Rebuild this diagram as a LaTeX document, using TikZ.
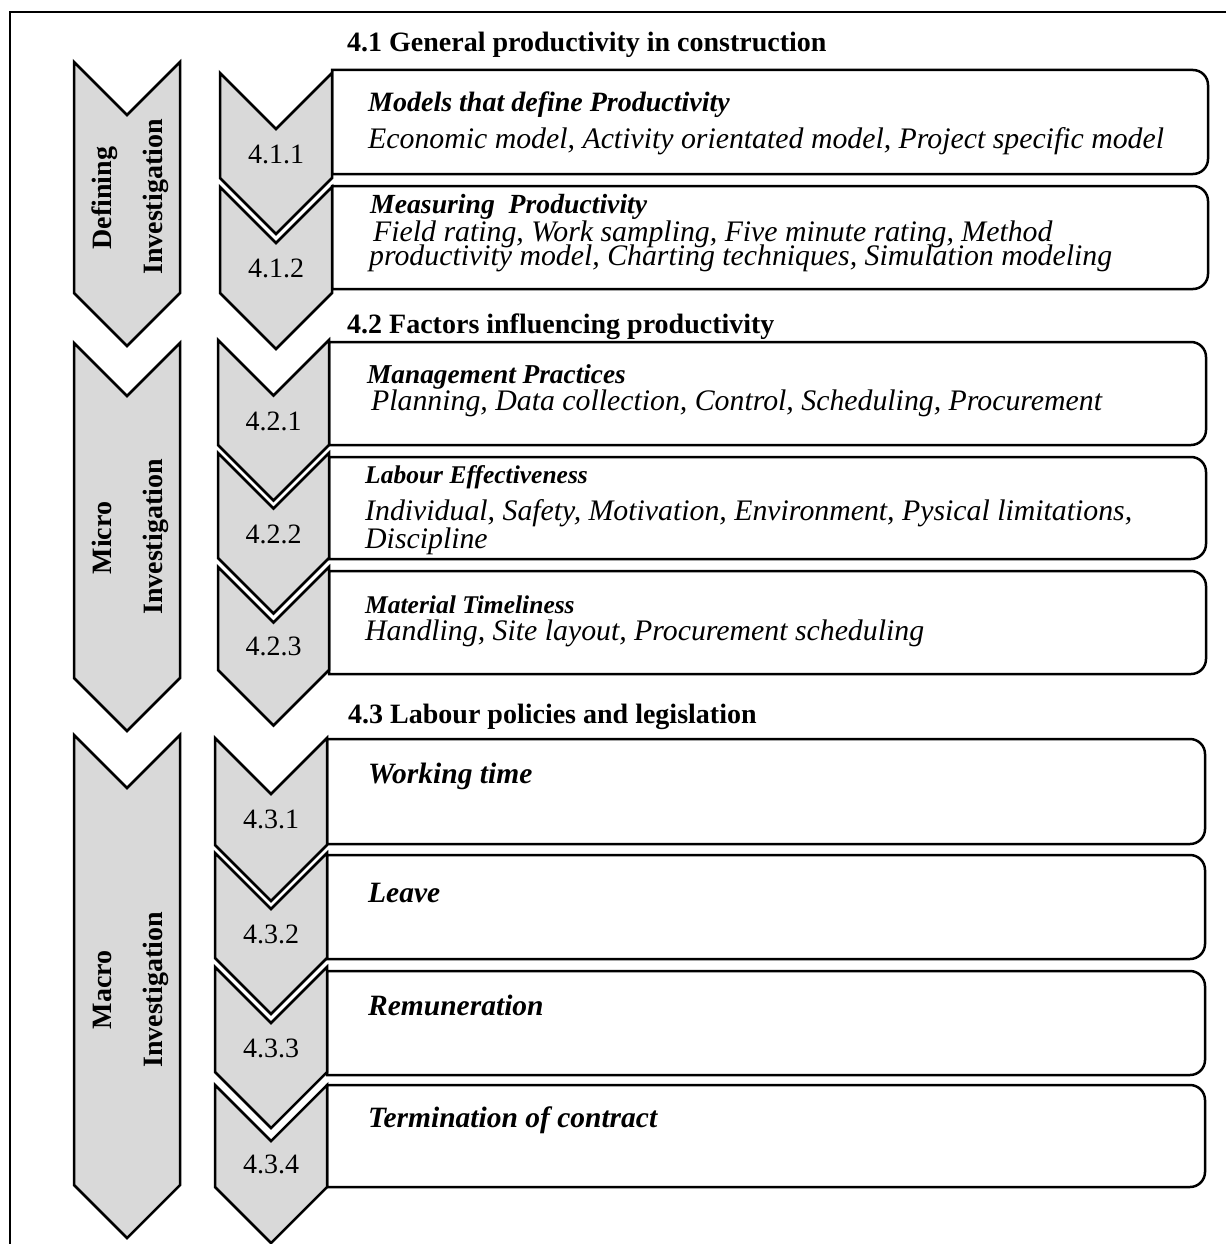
\documentclass[tikz,border=0pt]{standalone}
\usepackage{fontspec}
\setmainfont{Liberation Serif}
\definecolor{chevgray}{HTML}{D9D9D9}

% chevron: left x, right x, top y, shoulder y (notch and tip at 45 degrees)
\newcommand\chevronshape[4]{%
  \draw[chev] (#1,#3) -- ({(#1+#2)/2},{#3+(#2-#1)/2}) -- (#2,#3)
    -- (#2,#4) -- ({(#1+#2)/2},{#4+(#2-#1)/2}) -- (#1,#4) -- cycle;}

% content box, square on the left, rounded on the right: left, right, top, bottom
\newcommand\contentbox[4]{%
  \draw[itembox] (#1,#3) -- ({#2-15},#3) arc[start angle=-90,end angle=0,radius=15]
    -- (#2,{#4-15}) arc[start angle=0,end angle=90,radius=15] -- (#1,#4) -- cycle;}

\begin{document}
\begin{tikzpicture}[x=1pt,y=-1pt,
  frameline/.style={line width=2.3pt},
  chev/.style={draw=black,fill=chevgray,line width=2.5pt,line join=miter},
  itembox/.style={draw=black,fill=white,line width=2.5pt},
  numtxt/.style={anchor=base,inner sep=0pt,font=\fontsize{28}{30}\selectfont},
  headtxt/.style={anchor=base west,inner sep=0pt,font=\fontsize{28}{30}\selectfont\bfseries},
  titletxt/.style={anchor=base west,inner sep=0pt,font=\fontsize{#1}{30}\selectfont\bfseries\itshape},
  titletxt/.default=28,
  bodytxt/.style={anchor=base west,inner sep=0pt,font=\fontsize{29.8}{30}\selectfont\itshape},
  sidetxt/.style={anchor=base,inner sep=0pt,rotate=90,font=\fontsize{28}{30}\selectfont\bfseries}]

\useasboundingbox (0,0) rectangle (1226,1244);
\fill[white] (0,0) rectangle (1226,1244);

% outer frame
\draw[frameline] (1226,12) -- (10,12) -- (10,1244);

% large section chevrons
\chevronshape{74}{180}{62}{293}
\chevronshape{74}{180}{343}{678}
\chevronshape{74}{180}{735}{1185}

\node[sidetxt] (defA) at (111,198) {Defining};
\node[sidetxt] (defB) at (162,197) {Investigation};
\node[sidetxt] (micA) at (111,538) {Micro};
\node[sidetxt] (micB) at (162,537) {Investigation};
\node[sidetxt] (macA) at (111,990) {Macro};
\node[sidetxt] (macB) at (162,990) {Investigation};

% section headings
\node[headtxt] (h41) at (347,52) {4.1 General productivity in construction};
\node[headtxt] (h42) at (347,333) {4.2 Factors influencing productivity};
\node[headtxt] (h43) at (348,723) {4.3 Labour policies and legislation};

% 4.1 rows
\contentbox{332}{1208}{70}{174}
\chevronshape{220}{332}{73}{178}
\contentbox{332}{1208}{186}{289}
\chevronshape{220}{332}{187}{293}

\node[numtxt] (n411) at (276,163) {4.1.1};
\node[numtxt] (n412) at (276,277) {4.1.2};

\node[titletxt] (t411) at (368,112) {Models that define Productivity};
\node[bodytxt]  (b411) at (368,148) {Economic model, Activity orientated model, Project specific model};
\node[titletxt=27.7] (t412) at (370,213) {Measuring\ \ Productivity};
\node[bodytxt]  (b412a) at (373,241) {Field rating, Work sampling, Five minute rating, Method};
\node[bodytxt]  (b412b) at (369,265) {productivity model, Charting techniques, Simulation modeling};

% 4.2 rows
\contentbox{329}{1206}{342}{445}
\chevronshape{218}{329}{340}{445}
\contentbox{329}{1206}{457}{559}
\chevronshape{218}{329}{453}{558}
\contentbox{329}{1206}{571}{674}
\chevronshape{218}{329}{567}{670}

\node[numtxt] (n421) at (273.5,430) {4.2.1};
\node[numtxt] (n422) at (273.5,543) {4.2.2};
\node[numtxt] (n423) at (273.5,655) {4.2.3};

\node[titletxt=27.3] (t421) at (367,383) {Management Practices};
\node[bodytxt]  (b421) at (371,410) {Planning, Data collection, Control, Scheduling, Procurement};
\node[titletxt=25.5] (t422) at (365,483) {Labour Effectiveness};
\node[bodytxt]  (b422a) at (365,520) {Individual, Safety, Motivation, Environment, Pysical limitations,};
\node[bodytxt]  (b422b) at (365,548) {Discipline};
\node[titletxt=25.5] (t423) at (365,613) {Material Timeliness};
\node[bodytxt]  (b423) at (365,640) {Handling, Site layout, Procurement scheduling};

% 4.3 rows
\contentbox{327}{1205}{739}{844}
\chevronshape{215}{327}{738}{845}
\contentbox{327}{1205}{855}{959}
\chevronshape{215}{327}{853}{958}
\contentbox{327}{1205}{971}{1075}
\chevronshape{215}{327}{967}{1072}
\contentbox{327}{1205}{1085}{1187}
\chevronshape{215}{327}{1085}{1187}

\node[numtxt] (n431) at (271,828) {4.3.1};
\node[numtxt] (n432) at (271,943) {4.3.2};
\node[numtxt] (n433) at (271,1057) {4.3.3};
\node[numtxt] (n434) at (271,1173) {4.3.4};

\node[titletxt=29.5] (t431) at (368,783) {Working time};
\node[titletxt=29.5] (t432) at (368,902) {Leave};
\node[titletxt=29.5] (t433) at (368,1015) {Remuneration};
\node[titletxt=29.5] (t434) at (368,1127) {Termination of contract};
\end{tikzpicture}
\end{document}
